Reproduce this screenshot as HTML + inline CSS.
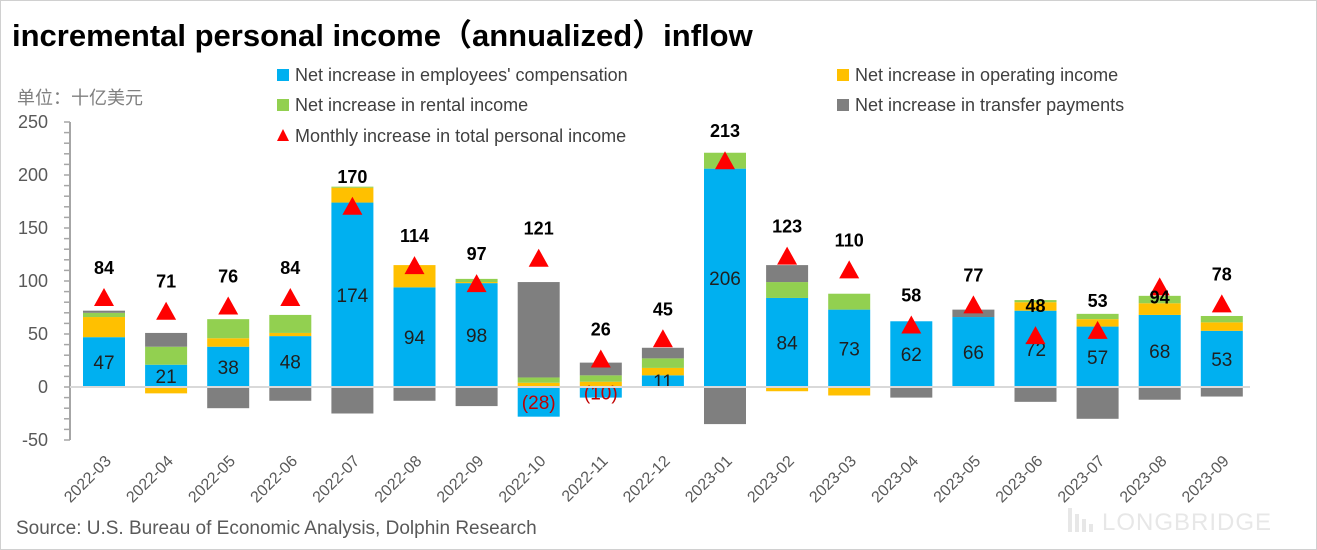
<!DOCTYPE html>
<html><head><meta charset="utf-8"><style>
body{margin:0;background:#fff;}
#wrap{position:relative;width:1317px;height:550px;overflow:hidden;font-family:"Liberation Sans","Noto Sans CJK SC",sans-serif;}
</style></head><body>
<div id="wrap">
<svg id="chart" width="1317" height="550" xmlns="http://www.w3.org/2000/svg">
<rect x="0.5" y="0.5" width="1316" height="549" fill="#fff" stroke="#d0d0d0"/>
<text x="12" y="46" font-size="31" font-weight="bold" fill="#000" font-family="Liberation Sans,Noto Sans CJK SC,sans-serif">incremental personal income（annualized）inflow</text>
<text x="17" y="104" font-size="18" fill="#7f7f7f" font-family="Liberation Sans,Noto Sans CJK SC,sans-serif">单位：十亿美元</text>
<text x="16" y="534" font-size="19" fill="#595959">Source: U.S. Bureau of Economic Analysis, Dolphin Research</text>
<g opacity="0.35">
<rect x="1068" y="508" width="4" height="24" fill="#bbb"/><rect x="1075" y="514" width="4" height="18" fill="#bbb"/><rect x="1082" y="519" width="4" height="13" fill="#bbb"/><rect x="1089" y="524" width="4" height="8" fill="#bbb"/>
<text x="1102" y="530" font-size="24" fill="#bbb" letter-spacing="1">LONGBRIDGE</text>
</g>
<g id="legend"></g>
<g id="plot"></g>
</svg>
</div>
<script>
const categories=["2022-03","2022-04","2022-05","2022-06","2022-07","2022-08","2022-09","2022-10","2022-11","2022-12","2023-01","2023-02","2023-03","2023-04","2023-05","2023-06","2023-07","2023-08","2023-09"];
const compensation=[47,21,38,48,174,94,98,-28,-10,11,206,84,73,62,66,72,57,68,53];
const operating=[19,-6,8,3,14,21,1,4,5,7,0,-4,-8,0,0,8,7,11,8];
const rental=[4,17,18,17,1,0,3,5,6,9,15,15,15,0,0,2,5,7,6];
const transfer=[2,13,-20,-13,-25,-13,-18,90,12,10,-35,16,0,-10,7,-14,-30,-12,-9];
const totalIncome=[84,71,76,84,170,114,97,121,26,45,213,123,110,58,77,48,53,94,78];
const yTicks=[-50,0,50,100,150,200,250];

const NS="http://www.w3.org/2000/svg";
const plot=document.getElementById('plot');
const y0=387, pxPer=1.06, x0=104, step=62.1, bw=42;
const Y=v=>y0-v*pxPer;
const X=i=>x0+i*step;
function mk(tag,attrs,parent){const e=document.createElementNS(NS,tag);for(const k in attrs)e.setAttribute(k,attrs[k]);(parent||plot).appendChild(e);return e;}

const axis=mk('line',{x1:70,y1:Y(250),x2:70,y2:Y(-50),stroke:'#a6a6a6','stroke-width':2});


for(let v=-50;v<=250;v+=10){const t=mk('line',{x1:64,y1:Y(v),x2:70,y2:Y(v),stroke:'#a6a6a6','stroke-width':1.5});

}
yTicks.forEach(v=>{const t=mk('text',{x:48,y:Y(v)+6,'font-size':18,'text-anchor':'end',fill:'#595959'});t.textContent=v;

});

const colors={c:'#00b0f0',o:'#ffc000',r:'#92d050',t:'#7f7f7f'};
categories.forEach((cat,i)=>{
  let pos=0,neg=0;
  const segs=[['c',compensation[i]],['o',operating[i]],['r',rental[i]],['t',transfer[i]]];
  segs.forEach(([k,v])=>{
    if(v===0)return;
    let a,b;
    if(v>0){a=pos;b=pos+v;pos=b;}else{a=neg;b=neg+v;neg=b;}
    const r=mk('rect',{x:X(i)-bw/2,y:Math.min(Y(a),Y(b)),width:bw,height:Math.abs(Y(a)-Y(b)),fill:colors[k]});
    
    
  });
  const cv=compensation[i];
  const lt=mk('text',{x:X(i),y:(Y(0)+Y(cv))/2+7,'font-size':19,'text-anchor':'middle',fill:cv<0?'#c00000':'#1f1f1f'});
  lt.textContent=cv<0?'('+(-cv)+')':cv;
  
  
  const xl=mk('text',{x:0,y:0,'font-size':16,'text-anchor':'end',fill:'#595959',transform:`translate(${X(i)+8},${y0+75}) rotate(-45)`});
  xl.textContent=cat;
  
  
});
const zl=mk('line',{x1:70,y1:y0,x2:1250,y2:y0,stroke:'#d9d9d9','stroke-width':2});


totalIncome.forEach((v,i)=>{
  const cx=X(i),cy=Y(v);
  const tri=mk('polygon',{points:`${cx},${cy-10} ${cx+10},${cy+8} ${cx-10},${cy+8}`,fill:'#ff0000'});
  
  
  const off=(i===17)?-16:24;
  const t=mk('text',{x:cx,y:cy-off,'font-size':18,'font-weight':'bold','text-anchor':'middle',fill:'#000'});
  t.textContent=v;
  
  
});
const lg=document.getElementById('legend');
const items=[[283,75,colors.c,"Net increase in employees' compensation",'sq'],[843,75,colors.o,'Net increase in operating income','sq'],[283,105,colors.r,'Net increase in rental income','sq'],[843,105,colors.t,'Net increase in transfer payments','sq'],[283,136,'#ff0000','Monthly increase in total personal income','tri']];
items.forEach(([x,y,c,label,s])=>{
  let m;
  if(s==='sq')m=mk('rect',{x:x-6,y:y-6,width:12,height:12,fill:c},lg);
  else m=mk('polygon',{points:`${x},${y-7} ${x+6},${y+5} ${x-6},${y+5}`,fill:c},lg);
  
  
  const t=mk('text',{x:x+12,y:y+6,'font-size':18,fill:'#404040'},lg);
  t.textContent=label;
  
  
});
</script>
</body></html>
